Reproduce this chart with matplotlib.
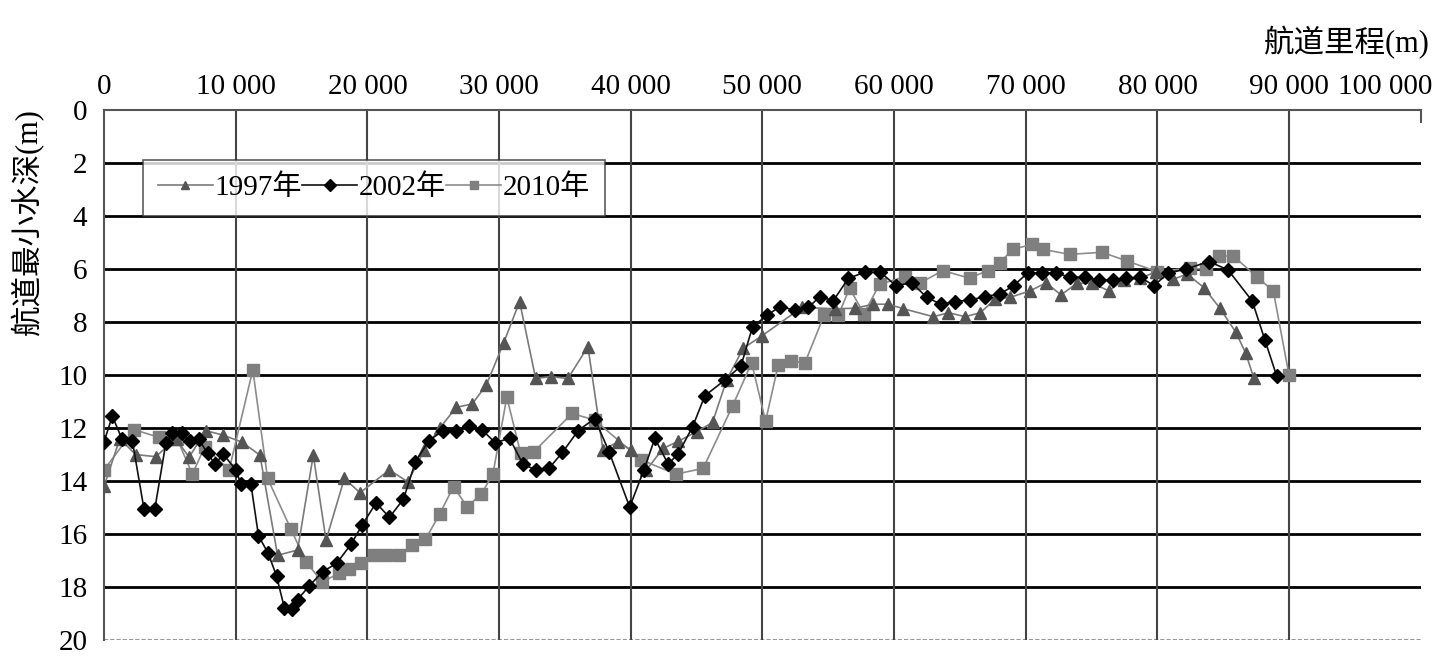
import matplotlib.pyplot as plt
import matplotlib.ticker as mticker
import matplotlib.transforms as mtransforms

plt.rcParams['font.family'] = ['Liberation Serif', 'Noto Sans CJK SC']
plt.rcParams['axes.unicode_minus'] = False

# 航道里程 (m) 与最小水深 (m)
x_1997 = [0, 1200, 2400, 3930, 5450, 6460, 7730, 9000, 10470, 11840, 13180, 14700,
          15890, 16860, 18250, 19440, 21670, 23070, 24330, 25500, 26740, 27960, 29030,
          30340, 31560, 32780, 33920, 35230, 36750, 37890, 39030, 40040, 41190, 42450,
          43600, 45000, 46210, 47280, 48540, 49940, 53000, 55500, 57030, 58430, 59570,
          60710, 62990, 64130, 65400, 66540, 67680, 68820, 70340, 71560, 72670, 73890,
          75030, 76300, 77490, 78700, 79920, 81190, 82260, 83520, 84740, 85930, 86690,
          87330]
d_1997 = [14.2, 12.4, 13.0, 13.08, 12.4, 13.1, 12.1, 12.26, 12.53, 13.02, 16.8, 16.6,
          13.02, 16.23, 13.9, 14.44, 13.58, 14.03, 12.83, 12.0, 11.22, 11.09, 10.38,
          8.8, 7.23, 10.13, 10.06, 10.13, 8.93, 12.83, 12.52, 12.83, 13.58, 12.77,
          12.5, 12.14, 11.79, 10.19, 8.99, 8.53, 7.45, 7.5, 7.48, 7.33, 7.33,
          7.5, 7.8, 7.65, 7.8, 7.65, 7.14, 7.07, 6.82, 6.52, 6.98, 6.54,
          6.54, 6.82, 6.42, 6.35, 6.1, 6.39, 6.19, 6.7, 7.48, 8.37, 9.16,
          10.13]

x_2002 = [0, 630, 1350, 2150, 3040, 3850, 4690, 5170, 5900, 6500, 7200, 7860, 8440,
          9050, 10010, 10390, 11150, 11730, 12470, 13100, 13690, 14250, 14700, 15590,
          16600, 17670, 18760, 19600, 20660, 21670, 22740, 23650, 24660, 25730, 26740,
          27700, 28720, 29710, 30800, 31810, 32780, 33790, 34810, 36000, 37260, 38350,
          39920, 41000, 41830, 42840, 43600, 44700, 45630, 47150, 48370, 49250, 50370,
          51330, 52470, 53490, 54370, 55380, 56530, 57790, 58940, 60150, 61340, 62480,
          63550, 64640, 65780, 66920, 68060, 69070, 70170, 71230, 72300, 73380, 74470,
          75540, 76600, 77620, 78710, 79720, 80810, 82200, 83900, 85350, 87200, 88160,
          89050]
d_2002 = [12.52, 11.55, 12.4, 12.48, 15.07, 15.07, 12.58, 12.2, 12.2, 12.5, 12.43, 12.95, 13.37,
          12.98, 13.58, 14.1, 14.1, 16.06, 16.73, 17.58, 18.77, 18.84, 18.47, 17.95,
          17.42, 17.1, 16.38, 15.66, 14.82, 15.37, 14.68, 13.27, 12.48, 12.1, 12.1,
          11.92, 12.08, 12.55, 12.39, 13.36, 13.58, 13.52, 12.92, 12.1, 11.64, 12.89,
          14.98, 13.58, 12.39, 13.36, 12.97, 11.95, 10.78, 10.19, 9.66, 8.18, 7.74,
          7.42, 7.55, 7.45, 7.04, 7.2, 6.35, 6.12, 6.12, 6.63, 6.52, 7.07,
          7.33, 7.23, 7.17, 7.04, 6.94, 6.63, 6.14, 6.16, 6.16, 6.31, 6.31,
          6.42, 6.42, 6.35, 6.31, 6.63, 6.16, 6.0, 5.72, 6.03, 7.21, 8.68,
          10.03]

x_2010 = [0, 2280, 4180, 5570, 6710, 7650, 9500, 11300, 12420, 14200, 15340, 16550,
          17870, 18580, 19520, 20530, 21420, 22430, 23400, 24410, 25480, 26540, 27580,
          28650, 29530, 30590, 31630, 32650, 35550, 37260, 40800, 43420, 45500, 47730,
          49180, 50240, 51200, 52170, 53230, 54680, 55760, 56620, 57700, 58900, 60840,
          61930, 63700, 65730, 67100, 68010, 69030, 70470, 71310, 73330, 75790, 77690,
          79980, 82450, 83650, 84660, 85760, 87530, 88800, 89990]
d_2010 = [13.58, 12.06, 12.35, 12.43, 13.74, 12.7, 13.58, 9.8, 13.9, 15.82, 17.04, 17.8,
          17.48, 17.33, 17.08, 16.79, 16.79, 16.79, 16.42, 16.2, 15.25, 14.21, 14.97,
          14.49, 13.74, 10.84, 12.93, 12.89, 11.45, 11.7, 13.2, 13.74, 13.52, 11.17,
          9.54, 11.74, 9.62, 9.47, 9.54, 7.75, 7.75, 6.73, 7.68, 6.58, 6.29,
          6.54, 6.06, 6.35, 6.06, 5.76, 5.26, 5.07, 5.26, 5.45, 5.37, 5.7,
          6.1, 5.97, 6.01, 5.51, 5.51, 6.29, 6.83, 10.0]

x_ticks = list(range(0, 100001, 10000))
y_ticks = list(range(0, 21, 2))

fig = plt.figure(figsize=(14.55, 6.62), dpi=100)
ax = fig.add_axes([0.0715, 0.033, 0.905, 0.801])

ax.plot(x_1997, d_1997, color='#7a7a7a', lw=1.2, marker='^', ms=9,
        mfc='#555555', mec='#555555', label='1997年', zorder=3)
ax.plot(x_2002, d_2002, color='#111111', lw=1.2, marker='D', ms=7,
        mfc='black', mec='black', label='2002年', zorder=4)
ax.plot(x_2010, d_2010, color='#8c8c8c', lw=1.2, marker='s', ms=8,
        mfc='#7f7f7f', mec='#7f7f7f', label='2010年', zorder=2)

ax.set_xlim(0, 100000)
ax.set_ylim(20, 0)
ax.set_xticks(x_ticks)
ax.set_yticks(y_ticks)
ax.xaxis.set_major_formatter(mticker.FuncFormatter(
    lambda v, p: '{:,}'.format(int(v)).replace(',', ' ')))
ax.xaxis.tick_top()
ax.tick_params(axis='x', length=0, pad=7, labelsize=21)
ax.tick_params(axis='y', length=0, pad=12, labelsize=21)

# last x label pulled left so it fits
fig.canvas.draw()
last = ax.get_xticklabels()[-1]
last.set_horizontalalignment('right')
last.set_transform(last.get_transform() +
                   mtransforms.ScaledTranslation(12 / 100, 0, fig.dpi_scale_trans))

# grid
for yv in y_ticks[1:-1]:
    ax.axhline(yv, color='black', lw=2.0, zorder=1)
ax.axhline(20, color='#999999', lw=1.5, ls=(0, (2, 1)), zorder=1)
for xv in x_ticks[1:-1]:
    ax.axvline(xv, color='#444444', lw=1.5, zorder=1)

ax.spines['bottom'].set_visible(False)
for s in ['top', 'left', 'right']:
    ax.spines[s].set_color('#555555')
    ax.spines[s].set_linewidth(1.5)
ax.spines['right'].set_bounds(0, 0.45)

leg = ax.legend(loc='upper left', bbox_to_anchor=(0.0296, 0.906), borderaxespad=0,
                ncol=3, fontsize=21, frameon=True, fancybox=False,
                handlelength=1.9, handletextpad=0.05, columnspacing=0.0,
                borderpad=0.5, edgecolor='#333333')
leg.get_frame().set_linewidth(1.2)
for h in leg.legend_handles:
    h.set_markersize(6)

fig.text(0.983, 0.935, '航道里程(m)', ha='right', va='center', fontsize=22)
fig.text(0.019, 0.665, '航道最小水深(m)', ha='center', va='center',
         rotation=90, fontsize=22)

fig.savefig('out.png', dpi=100)
